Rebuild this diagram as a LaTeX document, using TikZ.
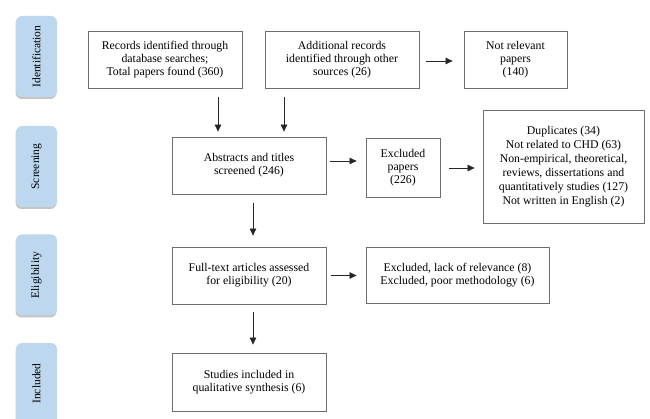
\documentclass[tikz,border=0pt]{standalone}
\usepackage{fontspec}
\setmainfont{Liberation Serif}
\usetikzlibrary{arrows.meta,shadows}
\definecolor{sidefill}{RGB}{189,215,238}
\definecolor{boxline}{RGB}{110,110,110}
\tikzset{
  x=1pt,y=-1pt,
  flowbox/.style={draw=boxline,line width=0.8pt,inner sep=0pt,align=center,
    font=\fontsize{11.8}{13.2}\selectfont},
  sidebox/.style={fill=sidefill,rounded corners=6pt,inner sep=0pt,
    minimum width=41pt,minimum height=81pt,
    drop shadow={shadow xshift=-0.5pt,shadow yshift=-2pt,opacity=0.45,fill=gray}},
  sidetext/.style={rotate=90,font=\fontsize{11.5}{12}\selectfont},
  arr/.style={draw=black!85,line width=0.7pt,-{Triangle[length=7pt,width=6.5pt]}}
}
\begin{document}
\begin{tikzpicture}
\useasboundingbox (0,0) rectangle (650,419);
% side labels
\node[sidebox] (s1) at (36.5,56.5) {};
\node[sidetext] (t1) at (s1.center) {Identification};
\node[sidebox] (s2) at (36.5,166.5) {};
\node[sidetext] (t2) at (s2.center) {Screening};
\node[sidebox] (s3) at (36.5,275) {};
\node[sidetext] (t3) at (s3.center) {Eligibility};
\node[sidebox] (s4) at (36.5,383.5) {};
\node[sidetext] (t4) at (s4.center) {Included};
% boxes
\node[flowbox,minimum width=154pt,minimum height=57pt] (b1) at (165,59.5)
  {Records identified through\\database searches;\\Total papers found (360)};
\node[flowbox,minimum width=154pt,minimum height=57pt] (b2) at (342,59.5)
  {Additional records\\identified through other\\sources (26)};
\node[flowbox,minimum width=103pt,minimum height=57pt] (b3) at (515.5,59.5)
  {Not relevant\\papers\\(140)};
\node[flowbox,minimum width=154pt,minimum height=57pt] (b4) at (249,165.5)
  {Abstracts and titles\\screened (246)};
\node[flowbox,minimum width=74pt,minimum height=59pt] (b5) at (403,167.5)
  {Excluded\\papers\\(226)};
\node[flowbox,minimum width=161pt,minimum height=113pt,
  font=\fontsize{11.8}{14}\selectfont] (b6) at (563.5,166.5)
  {Duplicates (34)\\Not related to CHD (63)\\Non-empirical, theoretical,\\reviews, dissertations and\\quantitatively studies (127)\\Not written in English (2)};
\node[flowbox,minimum width=154pt,minimum height=57pt] (b7) at (249,275.5)
  {Full-text articles assessed\\for eligibility (20)};
\node[flowbox,minimum width=183pt,minimum height=56pt] (b8) at (457.5,275)
  {Excluded, lack of relevance (8)\\Excluded, poor methodology (6)};
\node[flowbox,minimum width=154pt,minimum height=58pt] (b9) at (249,382)
  {Studies included in\\qualitative synthesis (6)};
% arrows
\draw[arr,shorten <=9pt,shorten >=5pt] ([xshift=53pt]b1.south) -- ([xshift=53pt]b1.south |- b4.north);
\draw[arr,shorten <=9pt,shorten >=5pt] ([xshift=-58pt]b2.south) -- ([xshift=-58pt]b2.south |- b4.north);
\draw[arr,shorten <=7pt,shorten >=11pt] ([yshift=-1.5pt]b2.east) -- ([yshift=-1.5pt]b2.east -| b3.west);
\draw[arr,shorten <=4pt,shorten >=9pt] ([yshift=4.5pt]b4.east) -- ([yshift=4.5pt]b4.east -| b5.west);
\draw[arr,shorten <=9pt,shorten >=8pt] ([yshift=-0.5pt]b5.east) -- ([yshift=-0.5pt]b5.east -| b6.west);
\draw[arr,shorten <=9pt,shorten >=11pt] ([xshift=4pt]b4.south) -- ([xshift=4pt]b4.south |- b7.north);
\draw[arr,shorten <=5pt,shorten >=9pt] (b7.east) -- (b7.east -| b8.west);
\draw[arr,shorten <=8pt,shorten >=8pt] ([xshift=4pt]b7.south) -- ([xshift=4pt]b7.south |- b9.north);
\end{tikzpicture}
\end{document}
